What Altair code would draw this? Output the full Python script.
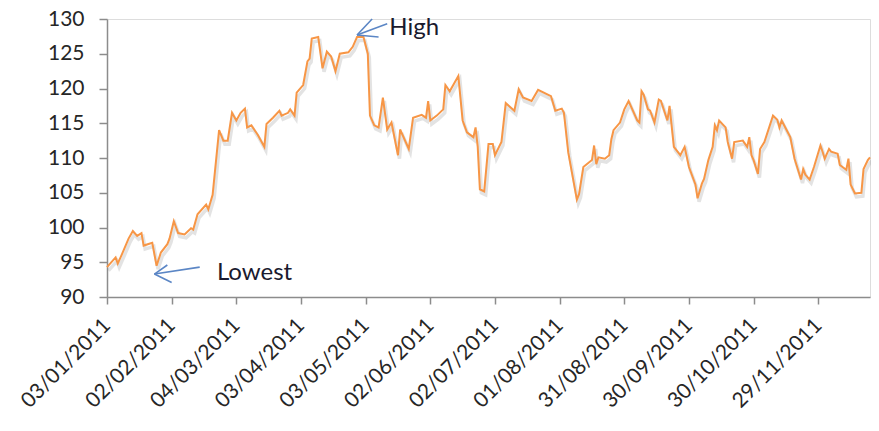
import altair as alt
import pandas as pd

# ---- data ----
dates = [
    "2011-01-03", "2011-01-07", "2011-01-08", "2011-01-10", "2011-01-13", "2011-01-15", "2011-01-17",
    "2011-01-19", "2011-01-20", "2011-01-24", "2011-01-26", "2011-01-28", "2011-01-31",
    "2011-02-01", "2011-02-03", "2011-02-05", "2011-02-08", "2011-02-11", "2011-02-12", "2011-02-14",
    "2011-02-18", "2011-02-19", "2011-02-21", "2011-02-24", "2011-02-26", "2011-02-28",
    "2011-03-02", "2011-03-04", "2011-03-06", "2011-03-08", "2011-03-09", "2011-03-11", "2011-03-14",
    "2011-03-17", "2011-03-18", "2011-03-21", "2011-03-24", "2011-03-25", "2011-03-28", "2011-03-29",
    "2011-03-31",
    "2011-04-01", "2011-04-04", "2011-04-06", "2011-04-07", "2011-04-08", "2011-04-11", "2011-04-13",
    "2011-04-15", "2011-04-17", "2011-04-19", "2011-04-21", "2011-04-25", "2011-04-27", "2011-04-29",
    "2011-05-02", "2011-05-04", "2011-05-05", "2011-05-07", "2011-05-09", "2011-05-11", "2011-05-13",
    "2011-05-15", "2011-05-18", "2011-05-19", "2011-05-23", "2011-05-25", "2011-05-29", "2011-05-31",
    "2011-06-01", "2011-06-02", "2011-06-05", "2011-06-08", "2011-06-09", "2011-06-11", "2011-06-15",
    "2011-06-17", "2011-06-19", "2011-06-22", "2011-06-23", "2011-06-24", "2011-06-25", "2011-06-27",
    "2011-06-29",
    "2011-07-01", "2011-07-02", "2011-07-05", "2011-07-07", "2011-07-11", "2011-07-13", "2011-07-15",
    "2011-07-19", "2011-07-22", "2011-07-28", "2011-07-30",
    "2011-08-02", "2011-08-03", "2011-08-05", "2011-08-09", "2011-08-10", "2011-08-12", "2011-08-16",
    "2011-08-17", "2011-08-18", "2011-08-19", "2011-08-22", "2011-08-24", "2011-08-25", "2011-08-26",
    "2011-08-29", "2011-08-31",
    "2011-09-02", "2011-09-03", "2011-09-06", "2011-09-07", "2011-09-08", "2011-09-09", "2011-09-11",
    "2011-09-12", "2011-09-14", "2011-09-16", "2011-09-17", "2011-09-20", "2011-09-21", "2011-09-23",
    "2011-09-26", "2011-09-28", "2011-09-30",
    "2011-10-03", "2011-10-04", "2011-10-06", "2011-10-07", "2011-10-09", "2011-10-11", "2011-10-12",
    "2011-10-13", "2011-10-14", "2011-10-17", "2011-10-18", "2011-10-20", "2011-10-21", "2011-10-25",
    "2011-10-27", "2011-10-28", "2011-10-29", "2011-10-30",
    "2011-11-01", "2011-11-02", "2011-11-04", "2011-11-08", "2011-11-10", "2011-11-11", "2011-11-12",
    "2011-11-16", "2011-11-18", "2011-11-21", "2011-11-22", "2011-11-23", "2011-11-25", "2011-11-27",
    "2011-11-30",
    "2011-12-01", "2011-12-02", "2011-12-04", "2011-12-05", "2011-12-08", "2011-12-09", "2011-12-12",
    "2011-12-13", "2011-12-14", "2011-12-16", "2011-12-19", "2011-12-20", "2011-12-22", "2011-12-23",
]

values = [
    94.3, 95.7, 94.8, 96.2, 98.4, 99.5, 98.8, 99.2, 97.4, 97.8, 94.5, 96.4, 97.6,
    98.4, 100.9, 99.2, 99.0, 99.9, 99.7, 101.9, 103.3, 102.6, 104.7, 114.0, 112.5, 112.5,
    116.5, 115.4, 116.5, 117.1, 114.4, 114.7, 113.3, 111.6, 114.9, 115.8, 116.8, 116.1, 116.5, 117.0, 116.1,
    119.4, 120.5, 123.9, 124.3, 127.2, 127.4, 122.9, 125.3, 124.6, 122.5, 125.0, 125.2, 126.0, 127.4,
    127.4, 125.0, 116.1, 114.7, 114.4, 118.7, 114.1, 115.1, 110.4, 114.1, 111.3, 115.8, 116.2, 115.8,
    118.2, 115.4, 116.1, 117.0, 120.5, 119.6, 121.8, 115.4, 113.7, 113.0, 114.4, 111.6, 105.5, 105.2, 112.0,
    112.0, 110.4, 112.3, 117.9, 116.8, 119.9, 118.7, 118.2, 119.8, 118.9, 116.8,
    117.1, 116.5, 110.8, 104.0, 104.8, 108.7, 109.7, 111.8, 109.1, 110.1, 109.9, 110.4, 112.7, 114.0, 115.1, 117.0,
    118.2, 117.5, 115.4, 115.1, 119.6, 119.1, 117.0, 116.8, 115.1, 118.4, 118.2, 115.4, 117.5, 111.6, 110.4, 111.6, 108.7,
    106.2, 104.2, 106.3, 107.0, 109.7, 111.6, 114.7, 114.0, 115.4, 114.4, 112.3, 109.9, 112.3, 112.5, 111.6, 113.0, 110.4, 109.7,
    107.7, 111.3, 112.3, 116.1, 115.5, 114.4, 115.4, 113.0, 109.9, 106.9, 108.4, 107.6, 106.9, 108.7, 111.8,
    110.9, 109.9, 111.3, 110.9, 110.6, 109.0, 108.3, 109.9, 106.2, 104.9, 105.0, 108.4, 109.7, 110.1,
]

tick_dates = [(2011, 1, 3), (2011, 2, 2), (2011, 3, 4), (2011, 4, 3), (2011, 5, 3), (2011, 6, 2),
              (2011, 7, 2), (2011, 8, 1), (2011, 8, 31), (2011, 9, 30), (2011, 10, 30), (2011, 11, 29)]
y_ticks = [90, 95, 100, 105, 110, 115, 120, 125, 130]

# annotation texts and arrows (in data coordinates)
ann_text = ["Lowest", "High"]
ann_date = ["2011-02-23", "2011-05-14"]
ann_val = [92.5, 127.7]

arrow_x1 = ["2011-01-25", "2011-01-25", "2011-01-25", "2011-04-29", "2011-04-29", "2011-04-29"]
arrow_y1 = [93.3, 93.3, 93.3, 127.7, 127.7, 127.7]
arrow_x2 = ["2011-02-15", "2011-01-31", "2011-02-02", "2011-05-13", "2011-05-06", "2011-05-09"]
arrow_y2 = [94.3, 94.6, 92.1, 129.3, 130.0, 127.4]

df = pd.DataFrame({"date": dates, "value": values})
ann = pd.DataFrame({"date": ann_date, "value": ann_val, "label": ann_text})
arr = pd.DataFrame({"x1": arrow_x1, "y1": arrow_y1, "x2": arrow_x2, "y2": arrow_y2})

FONT = "Lato"
x_scale = alt.Scale(type="utc",
                    domain=[alt.DateTime(year=2011, month=1, date=3, utc=True),
                            alt.DateTime(year=2011, month=12, date=23, utc=True)])
y_scale = alt.Scale(domain=[90, 130])

x_axis = alt.Axis(
    values=[alt.DateTime(year=y, month=m, date=d, utc=True) for (y, m, d) in tick_dates],
    labelExpr="utcFormat(datum.value, '%d/%m/%Y')",
    labelAngle=-45, labelAlign="right", labelBaseline="middle",
    labelFontSize=21, labelFont=FONT, labelColor="#262626", labelPadding=18,
    tickSize=7, tickColor="#8c8c8c", domainColor="#8c8c8c", domainWidth=1.5, tickWidth=1.5,
    grid=False, title=None, labelOverlap=False,
)
y_axis = alt.Axis(
    values=y_ticks, labelFontSize=21, labelFont=FONT, labelColor="#262626", labelPadding=15,
    tickSize=8, tickColor="#8c8c8c", domainColor="#8c8c8c", domainWidth=1.5, tickWidth=1.5,
    grid=False, title=None, labelOverlap=False, tickCount=9,
)

X = alt.X("date:T", scale=x_scale, axis=x_axis)
Y = alt.Y("value:Q", scale=y_scale, axis=y_axis)

base = alt.Chart(df).encode(x=X, y=Y)
shadow = base.mark_line(color="#7f7f7f", strokeWidth=3.5, opacity=0.22, xOffset=1.5, yOffset=3.5)
line = base.mark_line(color="#F79646", strokeWidth=2)

arrows = alt.Chart(arr).mark_rule(color="#5B86C5", strokeWidth=1.6).encode(
    x=alt.X("x1:T", scale=x_scale, axis=x_axis), x2="x2:T",
    y=alt.Y("y1:Q", scale=y_scale, axis=y_axis), y2="y2:Q",
)
texts = alt.Chart(ann).mark_text(align="left", baseline="alphabetic", font=FONT, fontSize=24,
                                 color="#1a1a2e").encode(
    x=alt.X("date:T", scale=x_scale, axis=x_axis),
    y=alt.Y("value:Q", scale=y_scale, axis=y_axis),
    text="label:N",
)

chart = alt.layer(shadow, line, arrows, texts).properties(
    width=763, height=278,
    autosize=alt.AutoSizeParams(type="none"),
    padding={"left": 99, "top": 11, "right": 1, "bottom": 126},
).configure_view(stroke=None).configure(background="white")

chart.save("out.html", embed_options={"renderer": "svg", "actions": False})
